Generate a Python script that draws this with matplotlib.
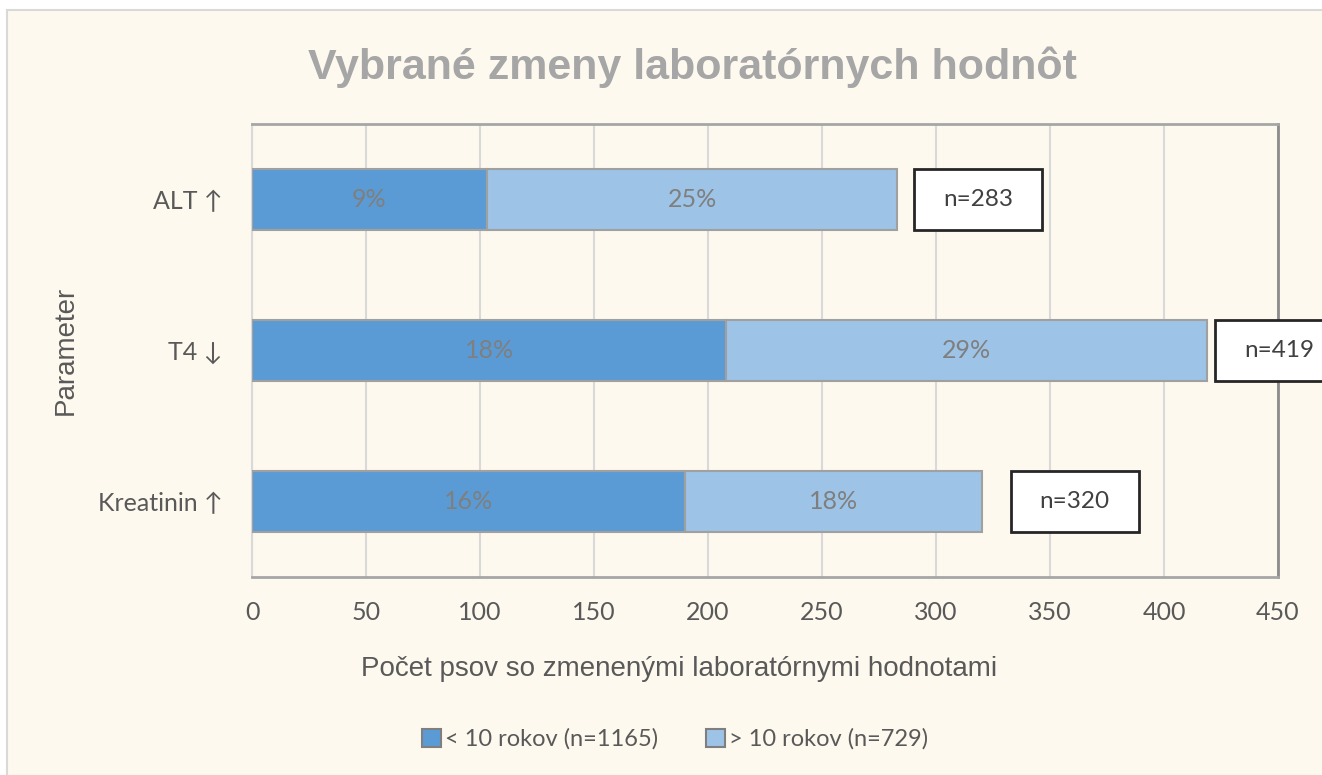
import matplotlib.pyplot as plt
import matplotlib.patches as mpatches
import numpy as np

# data
categories = ["ALT ↑", "T4 ↓", "Kreatinin ↑"]
young = [103, 208, 190]      # < 10 rokov
old = [180, 211, 130]        # > 10 rokov
young_pct = ["9%", "18%", "16%"]
old_pct = ["25%", "29%", "18%"]
totals = [283, 419, 320]
series_names = ["< 10 rokov (n=1165)", "> 10 rokov (n=729)"]
x_ticks = [0, 50, 100, 150, 200, 250, 300, 350, 400, 450]

# label box offsets (pixels right of bar end)
box_gap_px = [17, 8, 29]

BG = "#FEF9EE"
DARK = "#5B9BD5"
LIGHT = "#9DC3E6"
TXT = "#7F7F7F"
W, H = 1322, 775

body = ["Lato", "DejaVu Sans"]


def main():
    fig = plt.figure(figsize=(W / 100, H / 100), dpi=100, facecolor="white")

    # chart area background with thin border (right/bottom edges fall off the figure)
    fig.patches.append(mpatches.Rectangle((7 / W, -0.1), 1.2, 1.1 - 10 / H, transform=fig.transFigure,
                                          facecolor=BG, edgecolor="#D9D9D9", linewidth=1.5, zorder=-5))

    ax = fig.add_axes([252 / W, 1 - 577 / H, (1278 - 252) / W, (577 - 124) / H])
    ax.set_facecolor(BG)

    y = np.arange(len(categories))
    bh = 0.4
    ax.barh(y, young, height=bh, color=DARK, edgecolor="#A0A0A0", linewidth=1.5, zorder=3)
    ax.barh(y, old, left=young, height=bh, color=LIGHT, edgecolor="#A0A0A0", linewidth=1.5, zorder=3)

    for i in range(len(categories)):
        ax.text(young[i] / 2, y[i], young_pct[i], ha="center", va="center", color=TXT,
                fontsize=18, family=body, zorder=4)
        ax.text(young[i] + old[i] / 2, y[i], old_pct[i], ha="center", va="center", color=TXT,
                fontsize=18, family=body, zorder=4)

    # n= boxes, width ~128px height ~60px
    px_per_unit = (1278 - 252) / 450.0
    box_w = 128 / px_per_unit
    for i in range(len(categories)):
        x0 = totals[i] + box_gap_px[i] / px_per_unit
        rect = mpatches.Rectangle((x0, y[i] - bh / 2), box_w, bh, facecolor="white",
                                  edgecolor="#262626", linewidth=2, zorder=5, clip_on=False)
        ax.add_patch(rect)
        ax.text(x0 + box_w / 2, y[i], f"n={totals[i]}", ha="center", va="center",
                color="#404040", fontsize=17.5, family=body, zorder=6, clip_on=False)

    ax.set_xlim(0, 450)
    ax.set_ylim(len(categories) - 0.5, -0.5)
    ax.set_xticks(x_ticks)
    ax.set_yticks(y)
    ax.set_yticklabels(categories)
    ax.tick_params(length=0)
    ax.tick_params(axis="x", pad=17, labelsize=18, labelcolor="#595959")
    ax.tick_params(axis="y", pad=21, labelsize=18, labelcolor="#595959")
    for lab in ax.get_xticklabels() + ax.get_yticklabels():
        lab.set_family(body)

    ax.grid(axis="x", color="#D9D9D9", linewidth=1.5, zorder=0)
    ax.set_axisbelow(True)
    ax.spines["left"].set_color("#D9D9D9")
    ax.spines["left"].set_linewidth(1.5)
    ax.spines["bottom"].set_color("#A6A6A6")
    ax.spines["bottom"].set_linewidth(2)
    ax.spines["top"].set_color("#A6A6A6")
    ax.spines["top"].set_linewidth(2)
    ax.spines["right"].set_color("#8C8C8C")
    ax.spines["right"].set_linewidth(2)

    fig.text(692 / W, 1 - 67 / H, "Vybrané zmeny laboratórnych hodnôt", ha="center", va="center",
             fontsize=31, fontweight="bold", color="#A6A6A6", family="Liberation Sans")
    fig.text(679 / W, 1 - 669 / H, "Počet psov so zmenenými laboratórnymi hodnotami", ha="center",
             va="center", fontsize=20, color="#595959", family="Liberation Sans")
    fig.text(66 / W, 1 - 350 / H, "Parameter", ha="center", va="center", rotation=90,
             fontsize=20, color="#595959", family="Liberation Sans")

    handles = [mpatches.Patch(facecolor=DARK, edgecolor="#7F7F7F", linewidth=1.5),
               mpatches.Patch(facecolor=LIGHT, edgecolor="#7F7F7F", linewidth=1.5)]
    leg = fig.legend(handles, series_names, loc="center", bbox_to_anchor=(675 / W, 1 - 739 / H),
                     ncol=2, frameon=False, handlelength=0.8, handleheight=0.8, handletextpad=0.2,
                     columnspacing=2.0, prop={"family": body, "size": 17})
    for t in leg.get_texts():
        t.set_color("#595959")

    fig.savefig("out.png", dpi=100, facecolor=fig.get_facecolor())


if __name__ == "__main__":
    main()
